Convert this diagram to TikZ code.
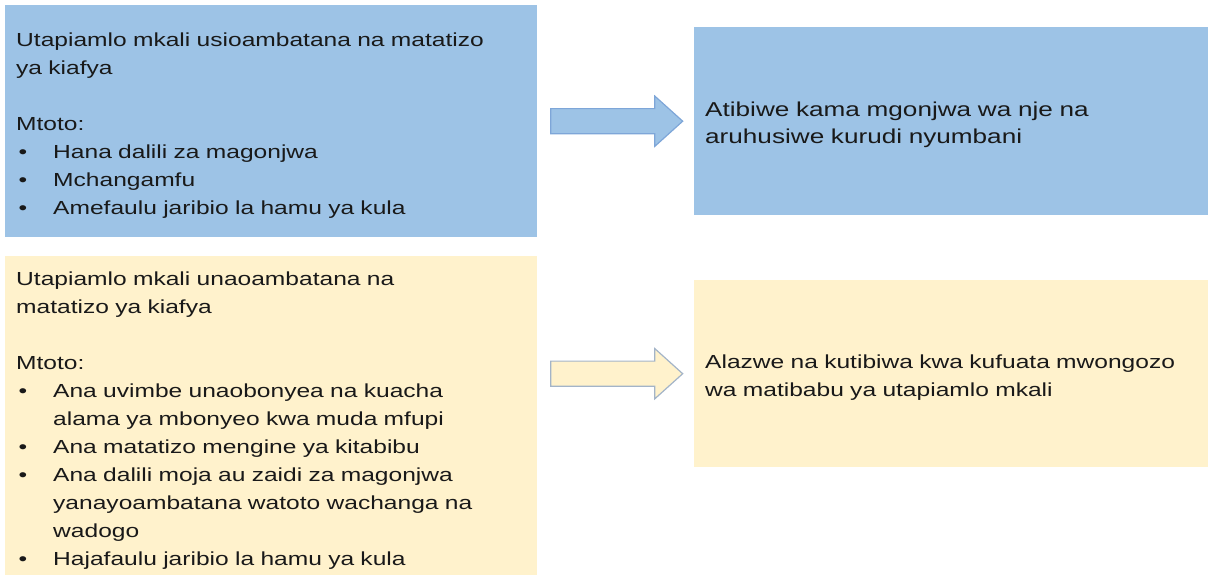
\documentclass[tikz,border=0pt]{standalone}
\usepackage{fontspec}
\setmainfont{Liberation Sans}[FakeStretch=1.3]
\usetikzlibrary{shapes.arrows,calc}

\definecolor{boxblue}{HTML}{9DC3E6}
\definecolor{boxyellow}{HTML}{FFF2CC}
\definecolor{arrowblue}{HTML}{7EA6D8}
\definecolor{arrowgrey}{HTML}{A3B4C8}

\newcommand{\bul}{\makebox[37pt][l]{\hspace{2.5pt}\textbullet}}
\newcommand{\cnt}{\hspace*{37pt}}

\begin{document}
\begin{tikzpicture}[x=1pt, y=-1pt,
    bluebox/.style={anchor=north west, inner sep=0pt, fill=boxblue},
    yellowbox/.style={anchor=north west, inner sep=0pt, fill=boxyellow},
    txt/.style={anchor=base west, inner sep=0pt, text width=520pt,
                align=left, text=black!90,
                font=\fontsize{18.9}{28}\selectfont},
    barrow/.style={single arrow, minimum height=132pt, inner xsep=0pt,
                   inner ysep=12pt, single arrow head extend=12.5pt,
                   single arrow tip angle=84, line width=1.2pt,
                   xshift=-6pt}]

  \useasboundingbox (0,0) rectangle (1208,574);

  %% Boxes
  \node[bluebox,   minimum width=532pt, minimum height=232pt] (b1) at (5,5) {};
  \node[yellowbox, minimum width=532pt, minimum height=325pt] (b2) at (5,256) {};
  \node[bluebox,   minimum width=520pt, minimum height=188pt] (b3) at (694,27) {};
  \node[yellowbox, minimum width=520pt, minimum height=187pt] (b4) at (694,280) {};

  %% Left texts
  \node[txt] (t1) at ([shift={(11,41)}]b1.north west)
    {Utapiamlo mkali usioambatana na matatizo\\ ya kiafya\\[28pt]
     Mtoto:\\
     \bul Hana dalili za magonjwa\\
     \bul Mchangamfu\\
     \bul Amefaulu jaribio la hamu ya kula};
  \node[txt] (t2) at ([shift={(11,29)}]b2.north west)
    {Utapiamlo mkali unaoambatana na\\ matatizo ya kiafya\\[28pt]
     Mtoto:\\
     \bul Ana uvimbe unaobonyea na kuacha\\
     \cnt alama ya mbonyeo kwa muda mfupi\\
     \bul Ana matatizo mengine ya kitabibu\\
     \bul Ana dalili moja au zaidi za magonjwa\\
     \cnt yanayoambatana watoto wachanga na\\
     \cnt wadogo\\
     \bul Hajafaulu jaribio la hamu ya kula};

  %% Right texts
  \node[txt, font=\fontsize{20.1}{27}\selectfont] (t3)
    at ([shift={(11,89)}]b3.north west)
    {Atibiwe kama mgonjwa wa nje na\\ aruhusiwe kurudi nyumbani};
  \node[txt] (t4) at ([shift={(11,88)}]b4.north west)
    {Alazwe na kutibiwa kwa kufuata mwongozo\\ wa matibabu ya utapiamlo mkali};

  %% Block arrows
  \node[barrow, fill=boxblue, draw=arrowblue] (a1)
    at ($(b1.east |- b3.west)!0.5!(b3.west)$) {};
  \node[barrow, fill=boxyellow, draw=arrowgrey] (a2)
    at ($(b2.east |- b4.west)!0.5!(b4.west)$) {};
\end{tikzpicture}
\end{document}
